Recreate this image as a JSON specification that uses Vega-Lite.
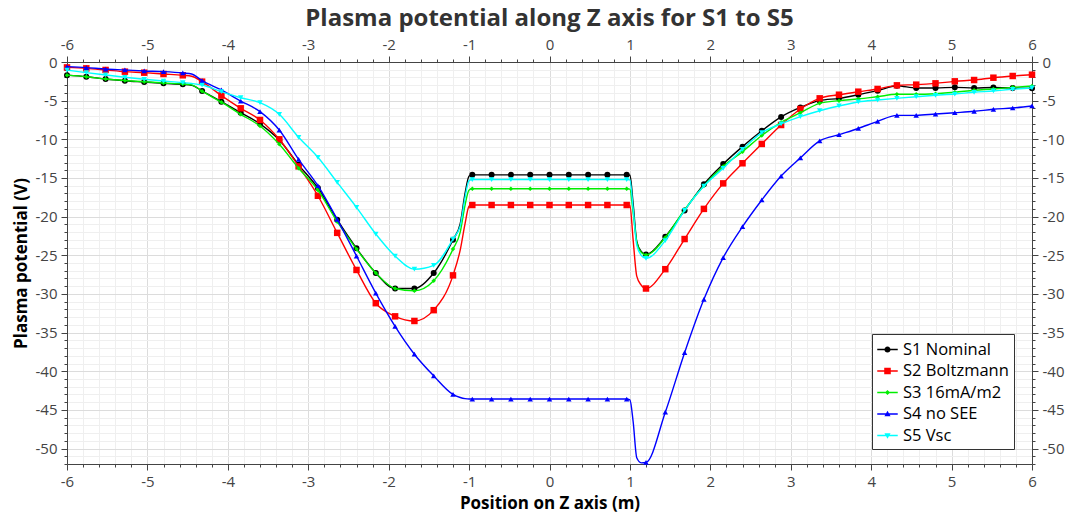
{
  "$schema": "https://vega.github.io/schema/vega-lite/v6.json",
  "width": 965,
  "height": 402,
  "autosize": {"type": "none"},
  "padding": {"left": 67, "top": 62, "right": 37, "bottom": 53},
  "background": "white",
  "title": {
    "text": "Plasma potential along Z axis for S1 to S5",
    "font": "Open Sans",
    "fontSize": 24,
    "fontWeight": "bold",
    "color": "#333333",
    "anchor": "middle",
    "offset": 6
  },
  "data": {
    "values": [
      {"series": "S1 Nominal", "z": -6, "v": -1.7},
      {"series": "S1 Nominal", "z": -5.76, "v": -1.9},
      {"series": "S1 Nominal", "z": -5.52, "v": -2.2},
      {"series": "S1 Nominal", "z": -5.28, "v": -2.42},
      {"series": "S1 Nominal", "z": -5.04, "v": -2.59},
      {"series": "S1 Nominal", "z": -4.8, "v": -2.76},
      {"series": "S1 Nominal", "z": -4.56, "v": -2.89},
      {"series": "S1 Nominal", "z": -4.45, "v": -3.0},
      {"series": "S1 Nominal", "z": -4.32, "v": -3.75},
      {"series": "S1 Nominal", "z": -4.08, "v": -5.13},
      {"series": "S1 Nominal", "z": -3.84, "v": -6.56},
      {"series": "S1 Nominal", "z": -3.6, "v": -8.0},
      {"series": "S1 Nominal", "z": -3.36, "v": -10.1},
      {"series": "S1 Nominal", "z": -3.12, "v": -13.3},
      {"series": "S1 Nominal", "z": -2.88, "v": -16.3},
      {"series": "S1 Nominal", "z": -2.64, "v": -20.4},
      {"series": "S1 Nominal", "z": -2.4, "v": -24.1},
      {"series": "S1 Nominal", "z": -2.16, "v": -27.3},
      {"series": "S1 Nominal", "z": -1.92, "v": -29.3},
      {"series": "S1 Nominal", "z": -1.68, "v": -29.3},
      {"series": "S1 Nominal", "z": -1.44, "v": -27.3},
      {"series": "S1 Nominal", "z": -1.2, "v": -23.0},
      {"series": "S1 Nominal", "z": -1.11, "v": -20.9},
      {"series": "S1 Nominal", "z": -1.05, "v": -17.0},
      {"series": "S1 Nominal", "z": -1, "v": -14.75},
      {"series": "S1 Nominal", "z": -0.96, "v": -14.6},
      {"series": "S1 Nominal", "z": -0.72, "v": -14.6},
      {"series": "S1 Nominal", "z": -0.48, "v": -14.6},
      {"series": "S1 Nominal", "z": -0.24, "v": -14.6},
      {"series": "S1 Nominal", "z": 0, "v": -14.6},
      {"series": "S1 Nominal", "z": 0.24, "v": -14.6},
      {"series": "S1 Nominal", "z": 0.48, "v": -14.6},
      {"series": "S1 Nominal", "z": 0.72, "v": -14.6},
      {"series": "S1 Nominal", "z": 0.96, "v": -14.6},
      {"series": "S1 Nominal", "z": 1, "v": -14.65},
      {"series": "S1 Nominal", "z": 1.04, "v": -18.3},
      {"series": "S1 Nominal", "z": 1.085, "v": -23.2},
      {"series": "S1 Nominal", "z": 1.14, "v": -24.5},
      {"series": "S1 Nominal", "z": 1.2, "v": -24.9},
      {"series": "S1 Nominal", "z": 1.44, "v": -22.6},
      {"series": "S1 Nominal", "z": 1.68, "v": -19.2},
      {"series": "S1 Nominal", "z": 1.92, "v": -15.8},
      {"series": "S1 Nominal", "z": 2.16, "v": -13.2},
      {"series": "S1 Nominal", "z": 2.4, "v": -10.95},
      {"series": "S1 Nominal", "z": 2.64, "v": -8.9},
      {"series": "S1 Nominal", "z": 2.88, "v": -7.1},
      {"series": "S1 Nominal", "z": 3.12, "v": -5.87},
      {"series": "S1 Nominal", "z": 3.36, "v": -5.0},
      {"series": "S1 Nominal", "z": 3.6, "v": -4.7},
      {"series": "S1 Nominal", "z": 3.84, "v": -4.23},
      {"series": "S1 Nominal", "z": 4.08, "v": -3.71},
      {"series": "S1 Nominal", "z": 4.32, "v": -3.07},
      {"series": "S1 Nominal", "z": 4.56, "v": -3.36},
      {"series": "S1 Nominal", "z": 4.8, "v": -3.36},
      {"series": "S1 Nominal", "z": 5.04, "v": -3.28},
      {"series": "S1 Nominal", "z": 5.28, "v": -3.36},
      {"series": "S1 Nominal", "z": 5.52, "v": -3.3},
      {"series": "S1 Nominal", "z": 5.76, "v": -3.36},
      {"series": "S1 Nominal", "z": 6, "v": -3.41},

      {"series": "S2 Boltzmann", "z": -6, "v": -0.7},
      {"series": "S2 Boltzmann", "z": -5.76, "v": -0.82},
      {"series": "S2 Boltzmann", "z": -5.52, "v": -1.03},
      {"series": "S2 Boltzmann", "z": -5.28, "v": -1.25},
      {"series": "S2 Boltzmann", "z": -5.04, "v": -1.38},
      {"series": "S2 Boltzmann", "z": -4.8, "v": -1.55},
      {"series": "S2 Boltzmann", "z": -4.56, "v": -1.72},
      {"series": "S2 Boltzmann", "z": -4.45, "v": -1.85},
      {"series": "S2 Boltzmann", "z": -4.32, "v": -2.54},
      {"series": "S2 Boltzmann", "z": -4.08, "v": -4.35},
      {"series": "S2 Boltzmann", "z": -3.84, "v": -5.99},
      {"series": "S2 Boltzmann", "z": -3.6, "v": -7.5},
      {"series": "S2 Boltzmann", "z": -3.36, "v": -10.0},
      {"series": "S2 Boltzmann", "z": -3.12, "v": -13.5},
      {"series": "S2 Boltzmann", "z": -2.88, "v": -17.3},
      {"series": "S2 Boltzmann", "z": -2.64, "v": -22.1},
      {"series": "S2 Boltzmann", "z": -2.4, "v": -26.9},
      {"series": "S2 Boltzmann", "z": -2.16, "v": -31.2},
      {"series": "S2 Boltzmann", "z": -1.92, "v": -32.9},
      {"series": "S2 Boltzmann", "z": -1.68, "v": -33.5},
      {"series": "S2 Boltzmann", "z": -1.44, "v": -32.1},
      {"series": "S2 Boltzmann", "z": -1.2, "v": -27.6},
      {"series": "S2 Boltzmann", "z": -1.11, "v": -24.3},
      {"series": "S2 Boltzmann", "z": -1.05, "v": -20.9},
      {"series": "S2 Boltzmann", "z": -1, "v": -18.65},
      {"series": "S2 Boltzmann", "z": -0.96, "v": -18.5},
      {"series": "S2 Boltzmann", "z": -0.72, "v": -18.5},
      {"series": "S2 Boltzmann", "z": -0.48, "v": -18.5},
      {"series": "S2 Boltzmann", "z": -0.24, "v": -18.5},
      {"series": "S2 Boltzmann", "z": 0, "v": -18.5},
      {"series": "S2 Boltzmann", "z": 0.24, "v": -18.5},
      {"series": "S2 Boltzmann", "z": 0.48, "v": -18.5},
      {"series": "S2 Boltzmann", "z": 0.72, "v": -18.5},
      {"series": "S2 Boltzmann", "z": 0.96, "v": -18.5},
      {"series": "S2 Boltzmann", "z": 1, "v": -18.55},
      {"series": "S2 Boltzmann", "z": 1.04, "v": -23.0},
      {"series": "S2 Boltzmann", "z": 1.085, "v": -27.7},
      {"series": "S2 Boltzmann", "z": 1.14, "v": -28.85},
      {"series": "S2 Boltzmann", "z": 1.2, "v": -29.3},
      {"series": "S2 Boltzmann", "z": 1.44, "v": -26.8},
      {"series": "S2 Boltzmann", "z": 1.68, "v": -22.9},
      {"series": "S2 Boltzmann", "z": 1.92, "v": -19.0},
      {"series": "S2 Boltzmann", "z": 2.16, "v": -15.7},
      {"series": "S2 Boltzmann", "z": 2.4, "v": -13.1},
      {"series": "S2 Boltzmann", "z": 2.64, "v": -10.6},
      {"series": "S2 Boltzmann", "z": 2.88, "v": -8.15},
      {"series": "S2 Boltzmann", "z": 3.12, "v": -6.08},
      {"series": "S2 Boltzmann", "z": 3.36, "v": -4.7},
      {"series": "S2 Boltzmann", "z": 3.6, "v": -4.23},
      {"series": "S2 Boltzmann", "z": 3.84, "v": -3.84},
      {"series": "S2 Boltzmann", "z": 4.08, "v": -3.49},
      {"series": "S2 Boltzmann", "z": 4.32, "v": -3.02},
      {"series": "S2 Boltzmann", "z": 4.56, "v": -2.93},
      {"series": "S2 Boltzmann", "z": 4.8, "v": -2.76},
      {"series": "S2 Boltzmann", "z": 5.04, "v": -2.5},
      {"series": "S2 Boltzmann", "z": 5.28, "v": -2.33},
      {"series": "S2 Boltzmann", "z": 5.52, "v": -2.03},
      {"series": "S2 Boltzmann", "z": 5.76, "v": -1.81},
      {"series": "S2 Boltzmann", "z": 6, "v": -1.64},

      {"series": "S3 16mA/m2", "z": -6, "v": -1.7},
      {"series": "S3 16mA/m2", "z": -5.76, "v": -1.9},
      {"series": "S3 16mA/m2", "z": -5.52, "v": -2.2},
      {"series": "S3 16mA/m2", "z": -5.28, "v": -2.4},
      {"series": "S3 16mA/m2", "z": -5.04, "v": -2.55},
      {"series": "S3 16mA/m2", "z": -4.8, "v": -2.72},
      {"series": "S3 16mA/m2", "z": -4.56, "v": -2.85},
      {"series": "S3 16mA/m2", "z": -4.45, "v": -2.96},
      {"series": "S3 16mA/m2", "z": -4.32, "v": -3.78},
      {"series": "S3 16mA/m2", "z": -4.08, "v": -5.2},
      {"series": "S3 16mA/m2", "z": -3.84, "v": -6.77},
      {"series": "S3 16mA/m2", "z": -3.6, "v": -8.28},
      {"series": "S3 16mA/m2", "z": -3.36, "v": -10.65},
      {"series": "S3 16mA/m2", "z": -3.12, "v": -13.75},
      {"series": "S3 16mA/m2", "z": -2.88, "v": -16.56},
      {"series": "S3 16mA/m2", "z": -2.64, "v": -20.66},
      {"series": "S3 16mA/m2", "z": -2.4, "v": -24.2},
      {"series": "S3 16mA/m2", "z": -2.16, "v": -27.3},
      {"series": "S3 16mA/m2", "z": -1.92, "v": -29.3},
      {"series": "S3 16mA/m2", "z": -1.68, "v": -29.6},
      {"series": "S3 16mA/m2", "z": -1.44, "v": -28.3},
      {"series": "S3 16mA/m2", "z": -1.2, "v": -24.2},
      {"series": "S3 16mA/m2", "z": -1.11, "v": -22.0},
      {"series": "S3 16mA/m2", "z": -1.05, "v": -18.5},
      {"series": "S3 16mA/m2", "z": -1, "v": -16.55},
      {"series": "S3 16mA/m2", "z": -0.96, "v": -16.4},
      {"series": "S3 16mA/m2", "z": -0.72, "v": -16.4},
      {"series": "S3 16mA/m2", "z": -0.48, "v": -16.4},
      {"series": "S3 16mA/m2", "z": -0.24, "v": -16.4},
      {"series": "S3 16mA/m2", "z": 0, "v": -16.4},
      {"series": "S3 16mA/m2", "z": 0.24, "v": -16.4},
      {"series": "S3 16mA/m2", "z": 0.48, "v": -16.4},
      {"series": "S3 16mA/m2", "z": 0.72, "v": -16.4},
      {"series": "S3 16mA/m2", "z": 0.96, "v": -16.4},
      {"series": "S3 16mA/m2", "z": 1, "v": -16.45},
      {"series": "S3 16mA/m2", "z": 1.04, "v": -19.5},
      {"series": "S3 16mA/m2", "z": 1.085, "v": -23.3},
      {"series": "S3 16mA/m2", "z": 1.14, "v": -24.6},
      {"series": "S3 16mA/m2", "z": 1.2, "v": -24.95},
      {"series": "S3 16mA/m2", "z": 1.44, "v": -22.7},
      {"series": "S3 16mA/m2", "z": 1.68, "v": -19.1},
      {"series": "S3 16mA/m2", "z": 1.92, "v": -16.0},
      {"series": "S3 16mA/m2", "z": 2.16, "v": -13.5},
      {"series": "S3 16mA/m2", "z": 2.4, "v": -11.6},
      {"series": "S3 16mA/m2", "z": 2.64, "v": -9.5},
      {"series": "S3 16mA/m2", "z": 2.88, "v": -7.8},
      {"series": "S3 16mA/m2", "z": 3.12, "v": -6.56},
      {"series": "S3 16mA/m2", "z": 3.36, "v": -5.35},
      {"series": "S3 16mA/m2", "z": 3.6, "v": -5.0},
      {"series": "S3 16mA/m2", "z": 3.84, "v": -4.79},
      {"series": "S3 16mA/m2", "z": 4.08, "v": -4.49},
      {"series": "S3 16mA/m2", "z": 4.32, "v": -4.18},
      {"series": "S3 16mA/m2", "z": 4.56, "v": -4.18},
      {"series": "S3 16mA/m2", "z": 4.8, "v": -4.1},
      {"series": "S3 16mA/m2", "z": 5.04, "v": -3.92},
      {"series": "S3 16mA/m2", "z": 5.28, "v": -3.66},
      {"series": "S3 16mA/m2", "z": 5.52, "v": -3.49},
      {"series": "S3 16mA/m2", "z": 5.76, "v": -3.28},
      {"series": "S3 16mA/m2", "z": 6, "v": -3.1},

      {"series": "S4 no SEE", "z": -6, "v": -0.6},
      {"series": "S4 no SEE", "z": -5.76, "v": -0.73},
      {"series": "S4 no SEE", "z": -5.52, "v": -0.91},
      {"series": "S4 no SEE", "z": -5.28, "v": -1.03},
      {"series": "S4 no SEE", "z": -5.04, "v": -1.16},
      {"series": "S4 no SEE", "z": -4.8, "v": -1.25},
      {"series": "S4 no SEE", "z": -4.56, "v": -1.42},
      {"series": "S4 no SEE", "z": -4.45, "v": -1.55},
      {"series": "S4 no SEE", "z": -4.32, "v": -2.42},
      {"series": "S4 no SEE", "z": -4.08, "v": -3.62},
      {"series": "S4 no SEE", "z": -3.84, "v": -5.05},
      {"series": "S4 no SEE", "z": -3.6, "v": -6.42},
      {"series": "S4 no SEE", "z": -3.36, "v": -8.8},
      {"series": "S4 no SEE", "z": -3.12, "v": -12.6},
      {"series": "S4 no SEE", "z": -2.88, "v": -16.0},
      {"series": "S4 no SEE", "z": -2.64, "v": -20.35},
      {"series": "S4 no SEE", "z": -2.4, "v": -25.1},
      {"series": "S4 no SEE", "z": -2.16, "v": -29.9},
      {"series": "S4 no SEE", "z": -1.92, "v": -34.2},
      {"series": "S4 no SEE", "z": -1.68, "v": -37.8},
      {"series": "S4 no SEE", "z": -1.44, "v": -40.6},
      {"series": "S4 no SEE", "z": -1.2, "v": -43.0},
      {"series": "S4 no SEE", "z": -1.11, "v": -43.4},
      {"series": "S4 no SEE", "z": -1.05, "v": -43.55},
      {"series": "S4 no SEE", "z": -1, "v": -43.6},
      {"series": "S4 no SEE", "z": -0.96, "v": -43.6},
      {"series": "S4 no SEE", "z": -0.72, "v": -43.6},
      {"series": "S4 no SEE", "z": -0.48, "v": -43.6},
      {"series": "S4 no SEE", "z": -0.24, "v": -43.6},
      {"series": "S4 no SEE", "z": 0, "v": -43.6},
      {"series": "S4 no SEE", "z": 0.24, "v": -43.6},
      {"series": "S4 no SEE", "z": 0.48, "v": -43.6},
      {"series": "S4 no SEE", "z": 0.72, "v": -43.6},
      {"series": "S4 no SEE", "z": 0.96, "v": -43.6},
      {"series": "S4 no SEE", "z": 1, "v": -43.7},
      {"series": "S4 no SEE", "z": 1.04, "v": -46.5},
      {"series": "S4 no SEE", "z": 1.085, "v": -51.2},
      {"series": "S4 no SEE", "z": 1.14, "v": -51.85},
      {"series": "S4 no SEE", "z": 1.2, "v": -51.8},
      {"series": "S4 no SEE", "z": 1.44, "v": -45.3},
      {"series": "S4 no SEE", "z": 1.68, "v": -37.6},
      {"series": "S4 no SEE", "z": 1.92, "v": -30.7},
      {"series": "S4 no SEE", "z": 2.16, "v": -25.3},
      {"series": "S4 no SEE", "z": 2.4, "v": -21.3},
      {"series": "S4 no SEE", "z": 2.64, "v": -17.85},
      {"series": "S4 no SEE", "z": 2.88, "v": -14.75},
      {"series": "S4 no SEE", "z": 3.12, "v": -12.4},
      {"series": "S4 no SEE", "z": 3.36, "v": -10.2},
      {"series": "S4 no SEE", "z": 3.6, "v": -9.4},
      {"series": "S4 no SEE", "z": 3.84, "v": -8.6},
      {"series": "S4 no SEE", "z": 4.08, "v": -7.67},
      {"series": "S4 no SEE", "z": 4.32, "v": -6.9},
      {"series": "S4 no SEE", "z": 4.56, "v": -6.9},
      {"series": "S4 no SEE", "z": 4.8, "v": -6.73},
      {"series": "S4 no SEE", "z": 5.04, "v": -6.56},
      {"series": "S4 no SEE", "z": 5.28, "v": -6.38},
      {"series": "S4 no SEE", "z": 5.52, "v": -6.12},
      {"series": "S4 no SEE", "z": 5.76, "v": -5.95},
      {"series": "S4 no SEE", "z": 6, "v": -5.69},

      {"series": "S5 Vsc", "z": -6, "v": -1.05},
      {"series": "S5 Vsc", "z": -5.76, "v": -1.38},
      {"series": "S5 Vsc", "z": -5.52, "v": -1.68},
      {"series": "S5 Vsc", "z": -5.28, "v": -1.98},
      {"series": "S5 Vsc", "z": -5.04, "v": -2.24},
      {"series": "S5 Vsc", "z": -4.8, "v": -2.46},
      {"series": "S5 Vsc", "z": -4.56, "v": -2.67},
      {"series": "S5 Vsc", "z": -4.45, "v": -2.78},
      {"series": "S5 Vsc", "z": -4.32, "v": -2.98},
      {"series": "S5 Vsc", "z": -4.08, "v": -3.84},
      {"series": "S5 Vsc", "z": -3.84, "v": -4.62},
      {"series": "S5 Vsc", "z": -3.6, "v": -5.26},
      {"series": "S5 Vsc", "z": -3.36, "v": -6.77},
      {"series": "S5 Vsc", "z": -3.12, "v": -9.74},
      {"series": "S5 Vsc", "z": -2.88, "v": -12.33},
      {"series": "S5 Vsc", "z": -2.64, "v": -15.57},
      {"series": "S5 Vsc", "z": -2.4, "v": -18.8},
      {"series": "S5 Vsc", "z": -2.16, "v": -22.25},
      {"series": "S5 Vsc", "z": -1.92, "v": -25.1},
      {"series": "S5 Vsc", "z": -1.68, "v": -26.8},
      {"series": "S5 Vsc", "z": -1.44, "v": -26.3},
      {"series": "S5 Vsc", "z": -1.2, "v": -22.9},
      {"series": "S5 Vsc", "z": -1.11, "v": -21.2},
      {"series": "S5 Vsc", "z": -1.05, "v": -17.5},
      {"series": "S5 Vsc", "z": -1, "v": -15.35},
      {"series": "S5 Vsc", "z": -0.96, "v": -15.2},
      {"series": "S5 Vsc", "z": -0.72, "v": -15.2},
      {"series": "S5 Vsc", "z": -0.48, "v": -15.2},
      {"series": "S5 Vsc", "z": -0.24, "v": -15.2},
      {"series": "S5 Vsc", "z": 0, "v": -15.2},
      {"series": "S5 Vsc", "z": 0.24, "v": -15.2},
      {"series": "S5 Vsc", "z": 0.48, "v": -15.2},
      {"series": "S5 Vsc", "z": 0.72, "v": -15.2},
      {"series": "S5 Vsc", "z": 0.96, "v": -15.2},
      {"series": "S5 Vsc", "z": 1, "v": -15.25},
      {"series": "S5 Vsc", "z": 1.04, "v": -19.0},
      {"series": "S5 Vsc", "z": 1.085, "v": -23.7},
      {"series": "S5 Vsc", "z": 1.14, "v": -25.0},
      {"series": "S5 Vsc", "z": 1.2, "v": -25.4},
      {"series": "S5 Vsc", "z": 1.44, "v": -23.1},
      {"series": "S5 Vsc", "z": 1.68, "v": -19.2},
      {"series": "S5 Vsc", "z": 1.92, "v": -16.05},
      {"series": "S5 Vsc", "z": 2.16, "v": -13.75},
      {"series": "S5 Vsc", "z": 2.4, "v": -11.3},
      {"series": "S5 Vsc", "z": 2.64, "v": -9.14},
      {"series": "S5 Vsc", "z": 2.88, "v": -8.0},
      {"series": "S5 Vsc", "z": 3.12, "v": -7.07},
      {"series": "S5 Vsc", "z": 3.36, "v": -6.3},
      {"series": "S5 Vsc", "z": 3.6, "v": -5.69},
      {"series": "S5 Vsc", "z": 3.84, "v": -5.17},
      {"series": "S5 Vsc", "z": 4.08, "v": -4.92},
      {"series": "S5 Vsc", "z": 4.32, "v": -4.7},
      {"series": "S5 Vsc", "z": 4.56, "v": -4.49},
      {"series": "S5 Vsc", "z": 4.8, "v": -4.31},
      {"series": "S5 Vsc", "z": 5.04, "v": -4.14},
      {"series": "S5 Vsc", "z": 5.28, "v": -3.92},
      {"series": "S5 Vsc", "z": 5.52, "v": -3.75},
      {"series": "S5 Vsc", "z": 5.76, "v": -3.53},
      {"series": "S5 Vsc", "z": 6, "v": -3.36}
    ]
  },
  "encoding": {
    "x": {"field": "z", "type": "quantitative", "scale": {"domain": [-6, 6], "nice": false, "zero": false}, "axis": null},
    "y": {"field": "v", "type": "quantitative", "scale": {"domain": [-52, 0], "nice": false, "zero": false}, "axis": null}
  },
  "layer": [
    {
      "description": "Legend key: each entry is a line segment carrying the series marker; the layer itself draws nothing.",
      "transform": [{"filter": "false"}],
      "mark": {"type": "point", "filled": true, "opacity": 1},
      "encoding": {
        "color": {
          "field": "series",
          "type": "nominal",
          "scale": {
            "domain": ["S1 Nominal", "S2 Boltzmann", "S3 16mA/m2", "S4 no SEE", "S5 Vsc"],
            "range": ["#000000", "#ff0000", "#00ee00", "#0000ff", "#00ffff"]
          },
          "legend": {
            "orient": "none",
            "legendX": 805,
            "legendY": 272,
            "title": null,
            "direction": "vertical",
            "labelFont": "Open Sans",
            "labelFontSize": 16.5,
            "labelColor": "#000000",
            "labelOffset": 5,
            "symbolSize": 420,
            "symbolStrokeWidth": 0,
            "rowPadding": 2.5,
            "padding": 5,
            "strokeColor": "#333333",
            "fillColor": "#ffffff",
            "cornerRadius": 0
          }
        },
        "shape": {
          "field": "series",
          "type": "nominal",
          "scale": {
            "domain": ["S1 Nominal", "S2 Boltzmann", "S3 16mA/m2", "S4 no SEE", "S5 Vsc"],
            "range": [
              "M-1,-0.07H1V0.07H-1ZM0.3,0A0.3,0.3,0,1,1,-0.3,0A0.3,0.3,0,1,1,0.3,0Z",
              "M-1,-0.07H1V0.07H-1ZM-0.32,-0.32H0.32V0.32H-0.32Z",
              "M-1,-0.07H1V0.07H-1ZM0,-0.25L0.25,0L0,0.25L-0.25,0Z",
              "M-1,-0.07H1V0.07H-1ZM0,-0.32L0.3,0.22L-0.3,0.22Z",
              "M-1,-0.07H1V0.07H-1ZM0,0.32L-0.3,-0.22L0.3,-0.22Z"
            ]
          }
        }
      }
    },
    {
      "transform": [{"filter": "datum.series == 'S1 Nominal'"}],
      "mark": {"type": "line", "interpolate": "monotone", "strokeWidth": 1.4, "color": "#000000"},
      "encoding": {
        "x": {
          "field": "z",
          "type": "quantitative",
          "scale": {"domain": [-6, 6], "nice": false, "zero": false},
          "axis": {
            "orient": "bottom",
            "title": "Position on Z axis (m)",
            "titlePadding": 6,
            "values": [-6,-5.8,-5.6,-5.4,-5.2,-5,-4.8,-4.6,-4.4,-4.2,-4,-3.8,-3.6,-3.4,-3.2,-3,-2.8,-2.6,-2.4,-2.2,-2,-1.8,-1.6,-1.4,-1.2,-1,-0.8,-0.6,-0.4,-0.2,0,0.2,0.4,0.6,0.8,1,1.2,1.4,1.6,1.8,2,2.2,2.4,2.6,2.8,3,3.2,3.4,3.6,3.8,4,4.2,4.4,4.6,4.8,5,5.2,5.4,5.6,5.8,6],
            "labelExpr": "abs(datum.value - round(datum.value)) < 0.01 ? '' + round(datum.value) : ''",
            "labelFlush": false,
            "labelOverlap": false,
            "grid": true,
            "gridColor": {"condition": {"test": "abs(datum.value - round(datum.value)) > 0.01", "value": "#efefef"}, "value": "#dcdcdc"},
            "tickSize": {"condition": {"test": "abs(datum.value - round(datum.value)) > 0.01", "value": 3}, "value": 6}
          }
        },
        "y": {
          "field": "v",
          "type": "quantitative",
          "scale": {"domain": [-52, 0], "nice": false, "zero": false},
          "axis": {
            "orient": "left",
            "title": "Plasma potential (V)",
            "titlePadding": 5,
            "values": [-52,-51,-50,-49,-48,-47,-46,-45,-44,-43,-42,-41,-40,-39,-38,-37,-36,-35,-34,-33,-32,-31,-30,-29,-28,-27,-26,-25,-24,-23,-22,-21,-20,-19,-18,-17,-16,-15,-14,-13,-12,-11,-10,-9,-8,-7,-6,-5,-4,-3,-2,-1,0],
            "labelExpr": "datum.value % 5 == 0 ? '' + datum.value : ''",
            "labelOverlap": false,
            "labelFlush": false,
            "grid": true,
            "gridColor": {"condition": {"test": "datum.value % 5 != 0", "value": "#efefef"}, "value": "#dcdcdc"},
            "tickSize": {"condition": {"test": "datum.value % 5 != 0", "value": 3}, "value": 6}
          }
        }
      }
    },
    {
      "transform": [{"filter": "datum.series == 'S1 Nominal' && abs(datum.z / 0.24 - round(datum.z / 0.24)) < 0.02"}],
      "mark": {"type": "point", "shape": "circle", "filled": true, "opacity": 1, "size": 36, "color": "#000000"},
      "encoding": {
        "x": {
          "field": "z",
          "type": "quantitative",
          "scale": {"domain": [-6, 6], "nice": false, "zero": false},
          "axis": {
            "orient": "top",
            "title": null,
            "values": [-6,-5.8,-5.6,-5.4,-5.2,-5,-4.8,-4.6,-4.4,-4.2,-4,-3.8,-3.6,-3.4,-3.2,-3,-2.8,-2.6,-2.4,-2.2,-2,-1.8,-1.6,-1.4,-1.2,-1,-0.8,-0.6,-0.4,-0.2,0,0.2,0.4,0.6,0.8,1,1.2,1.4,1.6,1.8,2,2.2,2.4,2.6,2.8,3,3.2,3.4,3.6,3.8,4,4.2,4.4,4.6,4.8,5,5.2,5.4,5.6,5.8,6],
            "labelExpr": "abs(datum.value - round(datum.value)) < 0.01 ? '' + round(datum.value) : ''",
            "labelFlush": false,
            "labelOverlap": false,
            "grid": false,
            "tickSize": {"condition": {"test": "abs(datum.value - round(datum.value)) > 0.01", "value": 3}, "value": 6}
          }
        },
        "y": {
          "field": "v",
          "type": "quantitative",
          "scale": {"domain": [-52, 0], "nice": false, "zero": false},
          "axis": {
            "orient": "right",
            "title": null,
            "values": [-52,-51,-50,-49,-48,-47,-46,-45,-44,-43,-42,-41,-40,-39,-38,-37,-36,-35,-34,-33,-32,-31,-30,-29,-28,-27,-26,-25,-24,-23,-22,-21,-20,-19,-18,-17,-16,-15,-14,-13,-12,-11,-10,-9,-8,-7,-6,-5,-4,-3,-2,-1,0],
            "labelExpr": "datum.value % 5 == 0 ? '' + datum.value : ''",
            "labelOverlap": false,
            "labelFlush": false,
            "grid": false,
            "tickSize": {"condition": {"test": "datum.value % 5 != 0", "value": 3}, "value": 6}
          }
        }
      }
    },
    {
      "transform": [{"filter": "datum.series == 'S2 Boltzmann'"}],
      "mark": {"type": "line", "interpolate": "monotone", "strokeWidth": 1.4, "color": "#ff0000"}
    },
    {
      "transform": [{"filter": "datum.series == 'S2 Boltzmann' && abs(datum.z / 0.24 - round(datum.z / 0.24)) < 0.02"}],
      "mark": {"type": "point", "shape": "square", "filled": true, "opacity": 1, "size": 42, "color": "#ff0000"}
    },
    {
      "transform": [{"filter": "datum.series == 'S3 16mA/m2'"}],
      "mark": {"type": "line", "interpolate": "monotone", "strokeWidth": 1.4, "color": "#00ee00"}
    },
    {
      "transform": [{"filter": "datum.series == 'S3 16mA/m2' && abs(datum.z / 0.24 - round(datum.z / 0.24)) < 0.02"}],
      "mark": {"type": "point", "shape": "diamond", "filled": true, "opacity": 1, "size": 20, "color": "#00ee00"}
    },
    {
      "transform": [{"filter": "datum.series == 'S4 no SEE'"}],
      "mark": {"type": "line", "interpolate": "monotone", "strokeWidth": 1.4, "color": "#0000ff"}
    },
    {
      "transform": [{"filter": "datum.series == 'S4 no SEE' && abs(datum.z / 0.24 - round(datum.z / 0.24)) < 0.02"}],
      "mark": {"type": "point", "shape": "triangle-up", "filled": true, "opacity": 1, "size": 30, "color": "#0000ff"}
    },
    {
      "transform": [{"filter": "datum.series == 'S5 Vsc'"}],
      "mark": {"type": "line", "interpolate": "monotone", "strokeWidth": 1.4, "color": "#00ffff"}
    },
    {
      "transform": [{"filter": "datum.series == 'S5 Vsc' && abs(datum.z / 0.24 - round(datum.z / 0.24)) < 0.02"}],
      "mark": {"type": "point", "shape": "triangle-down", "filled": true, "opacity": 1, "size": 30, "color": "#00ffff"}
    }
  ],
  "resolve": {"axis": {"x": "independent", "y": "independent"}},
  "config": {
    "view": {"stroke": null},
    "axis": {
      "domainColor": "#444444",
      "tickColor": "#444444",
      "labelColor": "#444444",
      "labelFont": "Open Sans",
      "labelFontSize": 15,
      "labelPadding": 4,
      "titleFont": "Open Sans",
      "titleFontSize": 17,
      "titleFontWeight": "bold",
      "titleColor": "#000000"
    }
  }
}
